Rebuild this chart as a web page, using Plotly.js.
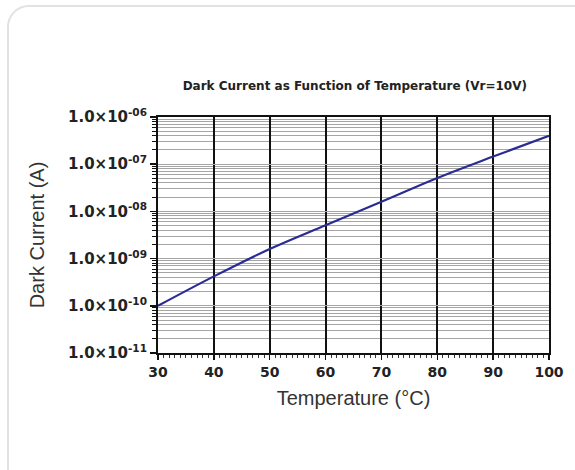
<!DOCTYPE html>
<html>
<head>
<meta charset="utf-8">
<script src="https://cdn.plot.ly/plotly-3.0.1.min.js"></script>
<style>
html,body{margin:0;padding:0;background:#fff;}
#card{position:absolute;left:7px;top:5px;width:600px;height:520px;border:2px solid #e2e2e2;border-radius:22px;box-sizing:border-box;}
#chart{position:absolute;left:0;top:0;width:575px;height:470px;}
</style>
</head>
<body>
<div id="card"></div>
<div id="chart"></div>
<script>
const temperature = [30, 40, 50, 60, 70, 80, 90, 100];
const darkCurrent = [1.0e-10, 4.2e-10, 1.6e-9, 5.1e-9, 1.6e-8, 5.1e-8, 1.45e-7, 4.0e-7];
const yTickVals = [1e-11, 1e-10, 1e-9, 1e-8, 1e-7, 1e-6];
const yTickText = ['1.0×10<sup>-11</sup>', '1.0×10<sup>-10</sup>', '1.0×10<sup>-09</sup>', '1.0×10<sup>-08</sup>', '1.0×10<sup>-07</sup>', '1.0×10<sup>-06</sup>'];
const xTickVals = [30, 40, 50, 60, 70, 80, 90, 100];

const trace = {
  x: temperature, y: darkCurrent, type: 'scatter', mode: 'lines',
  line: {color: '#2b2b95', width: 2.2, shape: 'spline'}, hoverinfo: 'skip'
};

const boldFont = 'DejaVu Sans, Liberation Sans, Arial, sans-serif';

const layout = {
  width: 575, height: 470,
  margin: {l: 158, r: 26, t: 117, b: 117},
  paper_bgcolor: 'rgba(0,0,0,0)', plot_bgcolor: '#fff',
  showlegend: false,
  font: {family: 'Liberation Sans, Arial, sans-serif', color: '#222'},
  title: {text: 'Dark Current as Function of Temperature (Vr=10V)',
    font: {family: boldFont, size: 12, weight: 'bold', color: '#222'}, x: 0.617, xanchor: 'center', y: 0.817, yanchor: 'middle'},
  xaxis: {
    range: [30, 100], tickvals: xTickVals, ticks: 'outside', ticklen: 5, tickwidth: 1.5, tickcolor: '#111',
    showline: true, linecolor: '#111', linewidth: 2, mirror: true,
    showgrid: true, gridcolor: '#111', gridwidth: 2, zeroline: false,
    tickfont: {family: boldFont, size: 14, weight: 'bold', color: '#222'},
    minor: {dtick: 1, ticks: 'outside', ticklen: 3, tickcolor: '#333', tickwidth: 1, showgrid: false},
    title: {text: 'Temperature (°C)', font: {size: 20, color: '#333'}, standoff: 12}
  },
  yaxis: {
    type: 'log', range: [-11, -6], tickvals: yTickVals, ticktext: yTickText,
    ticks: 'outside', ticklen: 6, tickwidth: 1.5, tickcolor: '#111',
    showline: true, linecolor: '#111', linewidth: 2, mirror: true,
    showgrid: true, gridcolor: '#a5a5a5', gridwidth: 1, zeroline: false,
    tickfont: {family: boldFont, size: 15, weight: 'bold', color: '#222'},
    minor: {dtick: 'D1', ticks: 'outside', ticklen: 4, tickcolor: '#111', tickwidth: 1, showgrid: true, gridcolor: '#a5a5a5', gridwidth: 1},
    title: {text: 'Dark Current (A)', font: {size: 20, color: '#333'}, standoff: 18}
  }
};

Plotly.newPlot('chart', [trace], layout, {staticPlot: true, displayModeBar: false});
</script>
</body>
</html>
